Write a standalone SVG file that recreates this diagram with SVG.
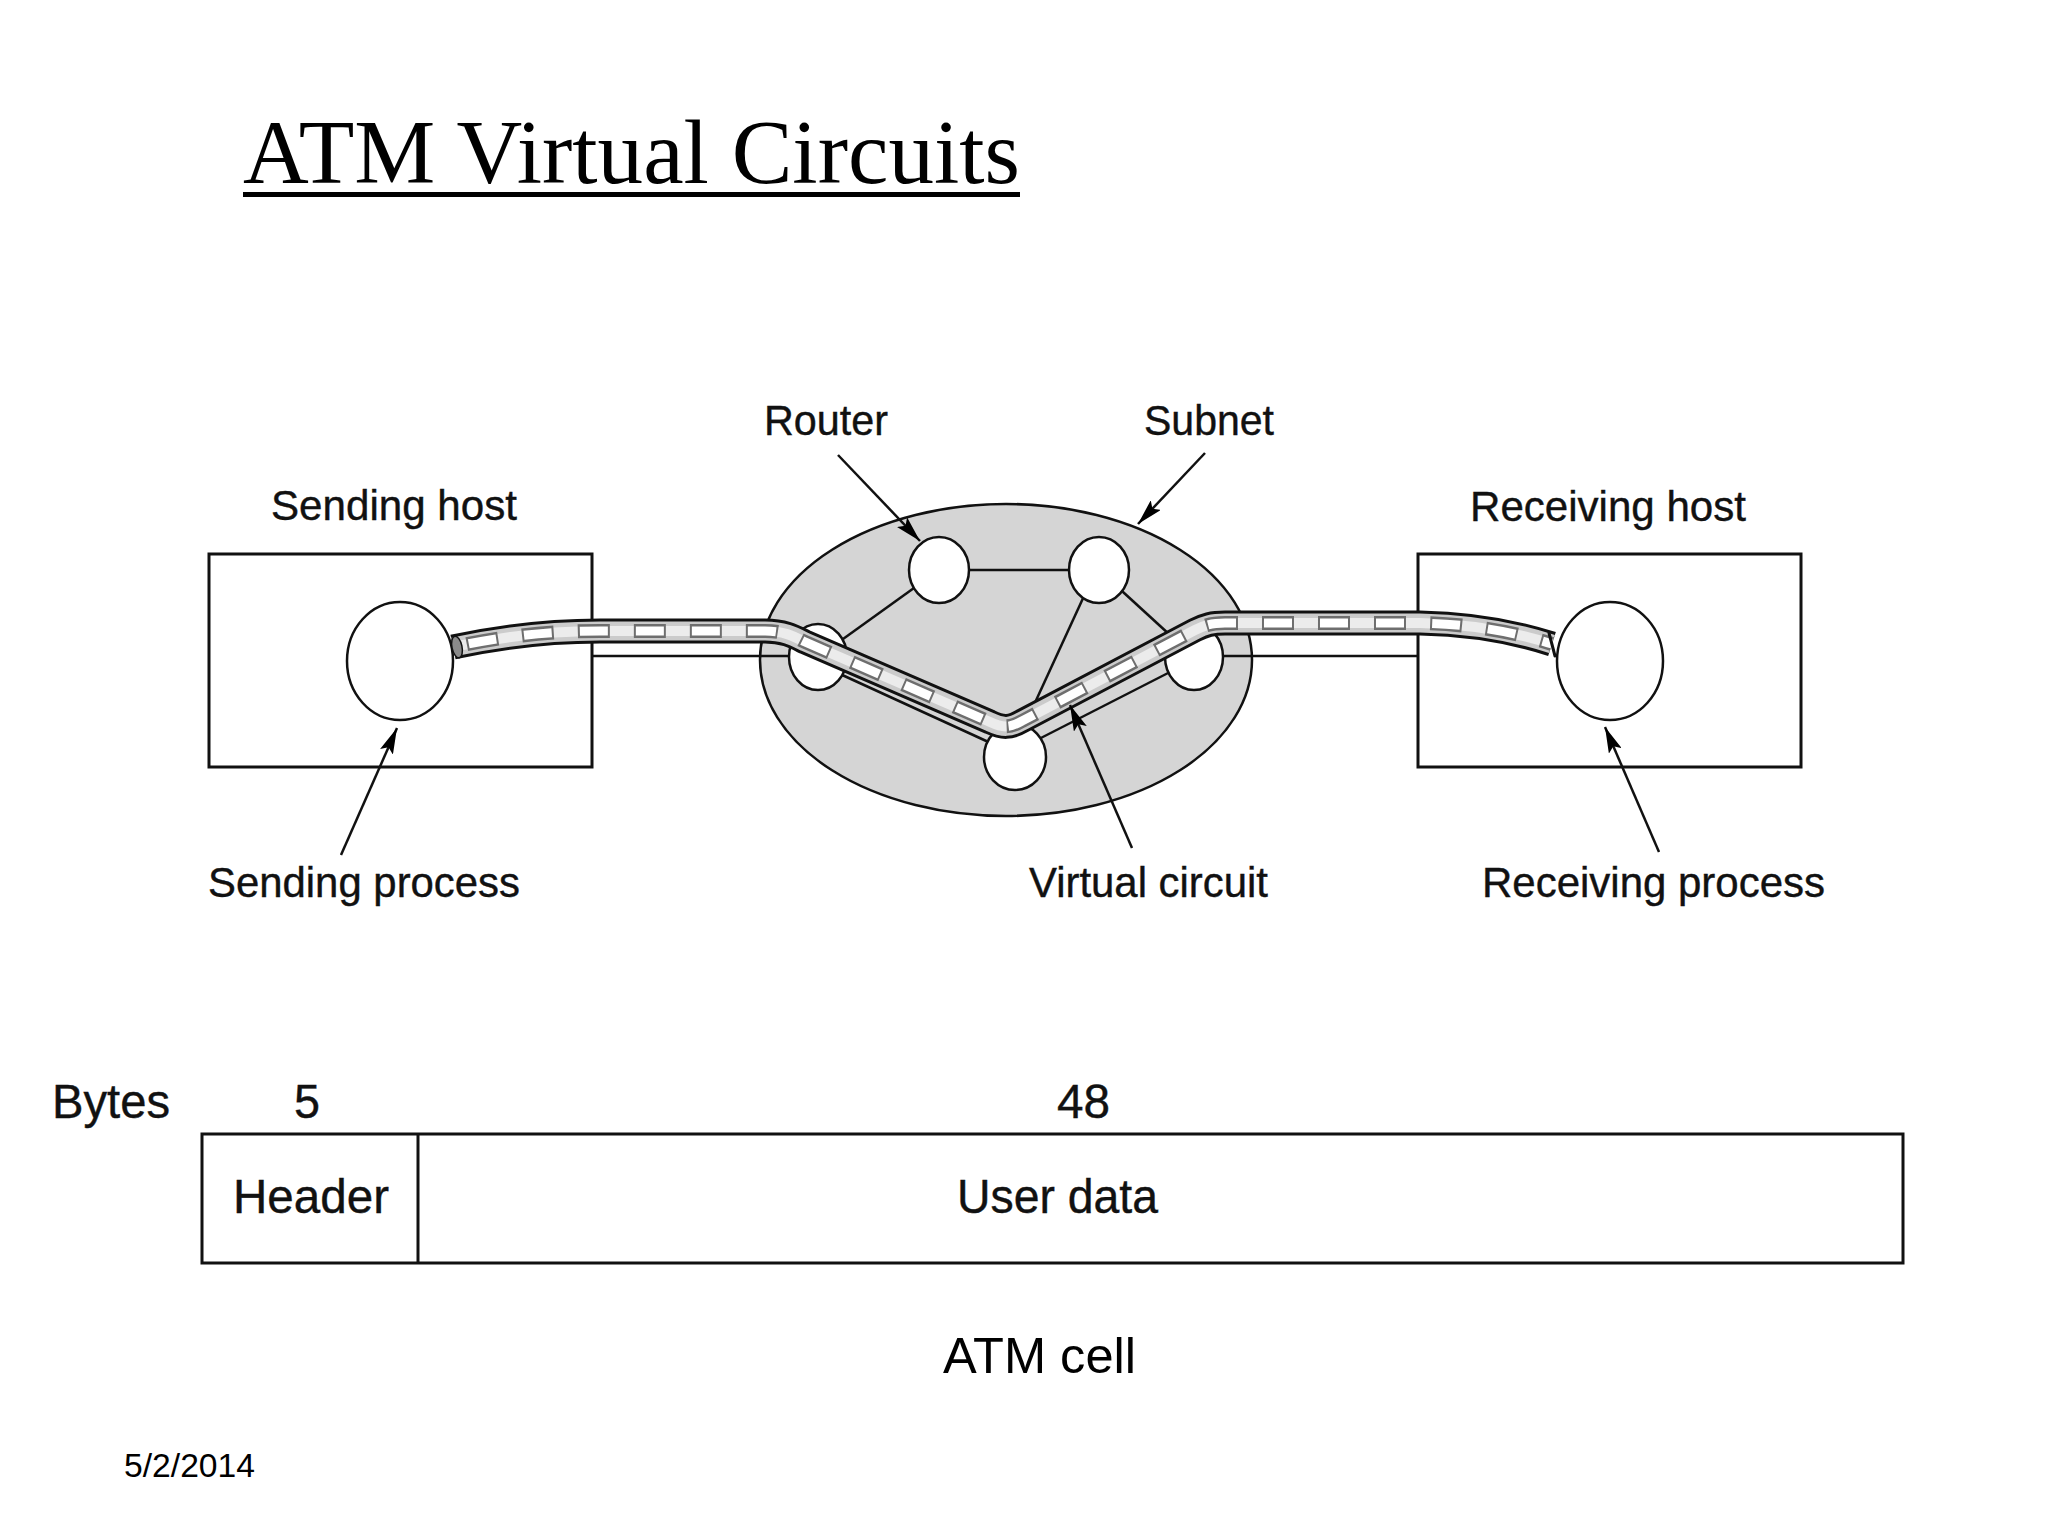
<svg xmlns="http://www.w3.org/2000/svg" width="2048" height="1536" viewBox="0 0 2048 1536">
<defs>
<marker id="arr" markerUnits="userSpaceOnUse" viewBox="0 0 26 14" refX="26" refY="7" markerWidth="26" markerHeight="14" orient="auto">
<path d="M0,0 L26,7 L0,14 L5,7 z" fill="#000"/>
</marker>
</defs>
<style>
.lbl{font-family:"Liberation Sans",Arial,sans-serif;font-size:43px;fill:#111;stroke:#111;stroke-width:0.4}
.big{font-family:"Liberation Sans",Arial,sans-serif;font-size:48px;fill:#111;stroke:#111;stroke-width:0.4}
.ln{stroke:#111;stroke-width:2.5;fill:none}
.box{fill:#fff;stroke:#111;stroke-width:3}
.rt{fill:#fff;stroke:#111;stroke-width:2.5}
.ptr{stroke:#111;stroke-width:2.5;fill:none;marker-end:url(#arr)}
</style>
<rect width="2048" height="1536" fill="#fff"/>
<g id="title">
<text x="243" y="183" font-family="'Liberation Serif','Times New Roman',serif" font-size="90" fill="#000" textLength="777" lengthAdjust="spacingAndGlyphs">ATM Virtual Circuits</text>
<rect x="243" y="192" width="777" height="5" fill="#000"/>
</g>
<g id="sending-host">
<rect class="box" x="209" y="554" width="383" height="213"/>
<text class="lbl" x="271" y="520" textLength="246" lengthAdjust="spacingAndGlyphs">Sending host</text>
</g>
<g id="receiving-host">
<rect class="box" x="1418" y="554" width="383" height="213"/>
<text class="lbl" x="1470" y="521" textLength="276" lengthAdjust="spacingAndGlyphs">Receiving host</text>
</g>
<g id="subnet">
<ellipse cx="1006" cy="660" rx="246" ry="156" fill="#d5d5d5" stroke="#111" stroke-width="2.5"/>
<text class="lbl" x="1144" y="435" textLength="130" lengthAdjust="spacingAndGlyphs">Subnet</text>
</g>
<g id="connectors">
<line class="ln" x1="592" y1="656" x2="800" y2="656"/>
<line class="ln" x1="1210" y1="656" x2="1418" y2="656"/>
<line class="ln" x1="939" y1="570" x2="1099" y2="570"/>
<line class="ln" x1="939" y1="570" x2="818" y2="657"/>
<line class="ln" x1="1099" y1="570" x2="1194" y2="657"/>
<line class="ln" x1="1096" y1="570" x2="1010" y2="757"/>
<line class="ln" x1="840" y1="674" x2="995" y2="745"/>
<line class="ln" x1="1035" y1="741" x2="1172" y2="671"/>
</g>
<g id="routers">
<ellipse class="rt" cx="939" cy="570" rx="30" ry="33"/>
<ellipse class="rt" cx="1099" cy="570" rx="30" ry="33"/>
<ellipse class="rt" cx="818" cy="657" rx="29" ry="33"/>
<ellipse class="rt" cx="1194" cy="657" rx="29" ry="33"/>
<ellipse class="rt" cx="1015" cy="757" rx="31" ry="33"/>
<text class="lbl" x="764" y="435" textLength="124" lengthAdjust="spacingAndGlyphs">Router</text>
</g>
<g id="sending-process">
<ellipse class="rt" cx="400" cy="661" rx="53" ry="59"/>
<text class="lbl" x="208" y="897" textLength="312" lengthAdjust="spacingAndGlyphs">Sending process</text>
</g>
<g id="receiving-process">
<ellipse class="rt" cx="1610" cy="661" rx="53" ry="59"/>
<text class="lbl" x="1482" y="897" textLength="343" lengthAdjust="spacingAndGlyphs">Receiving process</text>
</g>
<g id="virtual-circuit">
<path d="M453,647 C500,637 545,631 600,631 L765,631 C785,631 795,637 805,642 L990,722 C1003,728 1010,728 1022,721 L1195,630 C1205,625 1212,623 1225,623 L1420,623 C1470,624 1515,632 1552,644" fill="none" stroke="#111" stroke-width="25"/>
<path d="M453,647 C500,637 545,631 600,631 L765,631 C785,631 795,637 805,642 L990,722 C1003,728 1010,728 1022,721 L1195,630 C1205,625 1212,623 1225,623 L1420,623 C1470,624 1515,632 1552,644" fill="none" stroke="#cbcbcb" stroke-width="19"/>
<path d="M453,647 C500,637 545,631 600,631 L765,631 C785,631 795,637 805,642 L990,722 C1003,728 1010,728 1022,721 L1195,630 C1205,625 1212,623 1225,623 L1420,623 C1470,624 1515,632 1552,644" fill="none" stroke="#ececec" stroke-width="10"/>
<path d="M453,647 C500,637 545,631 600,631 L765,631 C785,631 795,637 805,642 L990,722 C1003,728 1010,728 1022,721 L1195,630 C1205,625 1212,623 1225,623 L1420,623 C1470,624 1515,632 1552,644" fill="none" stroke="#6e6e6e" stroke-width="14" stroke-dasharray="32 24" stroke-dashoffset="42"/>
<path d="M453,647 C500,637 545,631 600,631 L765,631 C785,631 795,637 805,642 L990,722 C1003,728 1010,728 1022,721 L1195,630 C1205,625 1212,623 1225,623 L1420,623 C1470,624 1515,632 1552,644" fill="none" stroke="#fff" stroke-width="9" stroke-dasharray="28 28" stroke-dashoffset="40"/>
<ellipse cx="457" cy="647" rx="5" ry="11" fill="#8a8a8a" stroke="#111" stroke-width="1.5" transform="rotate(-12 457 647)"/>
<line x1="1549" y1="633" x2="1555" y2="656" stroke="#111" stroke-width="3" stroke-linecap="round"/>
<text class="lbl" x="1029" y="897" textLength="239" lengthAdjust="spacingAndGlyphs">Virtual circuit</text>
</g>
<g id="pointers">
<line class="ptr" x1="838" y1="455" x2="920" y2="541"/>
<line class="ptr" x1="1205" y1="453" x2="1138" y2="524"/>
<line class="ptr" x1="341" y1="855" x2="397" y2="728"/>
<line class="ptr" x1="1659" y1="852" x2="1605" y2="727"/>
<line class="ptr" x1="1132" y1="848" x2="1070" y2="705"/>
</g>
<g id="atm-cell">
<text class="big" x="52" y="1118" textLength="118" lengthAdjust="spacingAndGlyphs">Bytes</text>
<text class="big" x="294" y="1118" textLength="26" lengthAdjust="spacingAndGlyphs">5</text>
<text class="big" x="1057" y="1118" textLength="53" lengthAdjust="spacingAndGlyphs">48</text>
<rect x="202" y="1134" width="1701" height="129" fill="#fff" stroke="#111" stroke-width="3"/>
<line x1="418" y1="1134" x2="418" y2="1263" stroke="#111" stroke-width="3"/>
<text class="big" x="233" y="1213" textLength="156" lengthAdjust="spacingAndGlyphs">Header</text>
<text class="big" x="957" y="1213" textLength="201" lengthAdjust="spacingAndGlyphs">User data</text>
<text x="943" y="1373" font-family="'Liberation Sans',Arial,sans-serif" font-size="50" fill="#000" textLength="193" lengthAdjust="spacingAndGlyphs">ATM cell</text>
</g>
<text x="124" y="1477" font-family="'Liberation Sans',Arial,sans-serif" font-size="33" fill="#000" textLength="131" lengthAdjust="spacingAndGlyphs">5/2/2014</text>
</svg>
